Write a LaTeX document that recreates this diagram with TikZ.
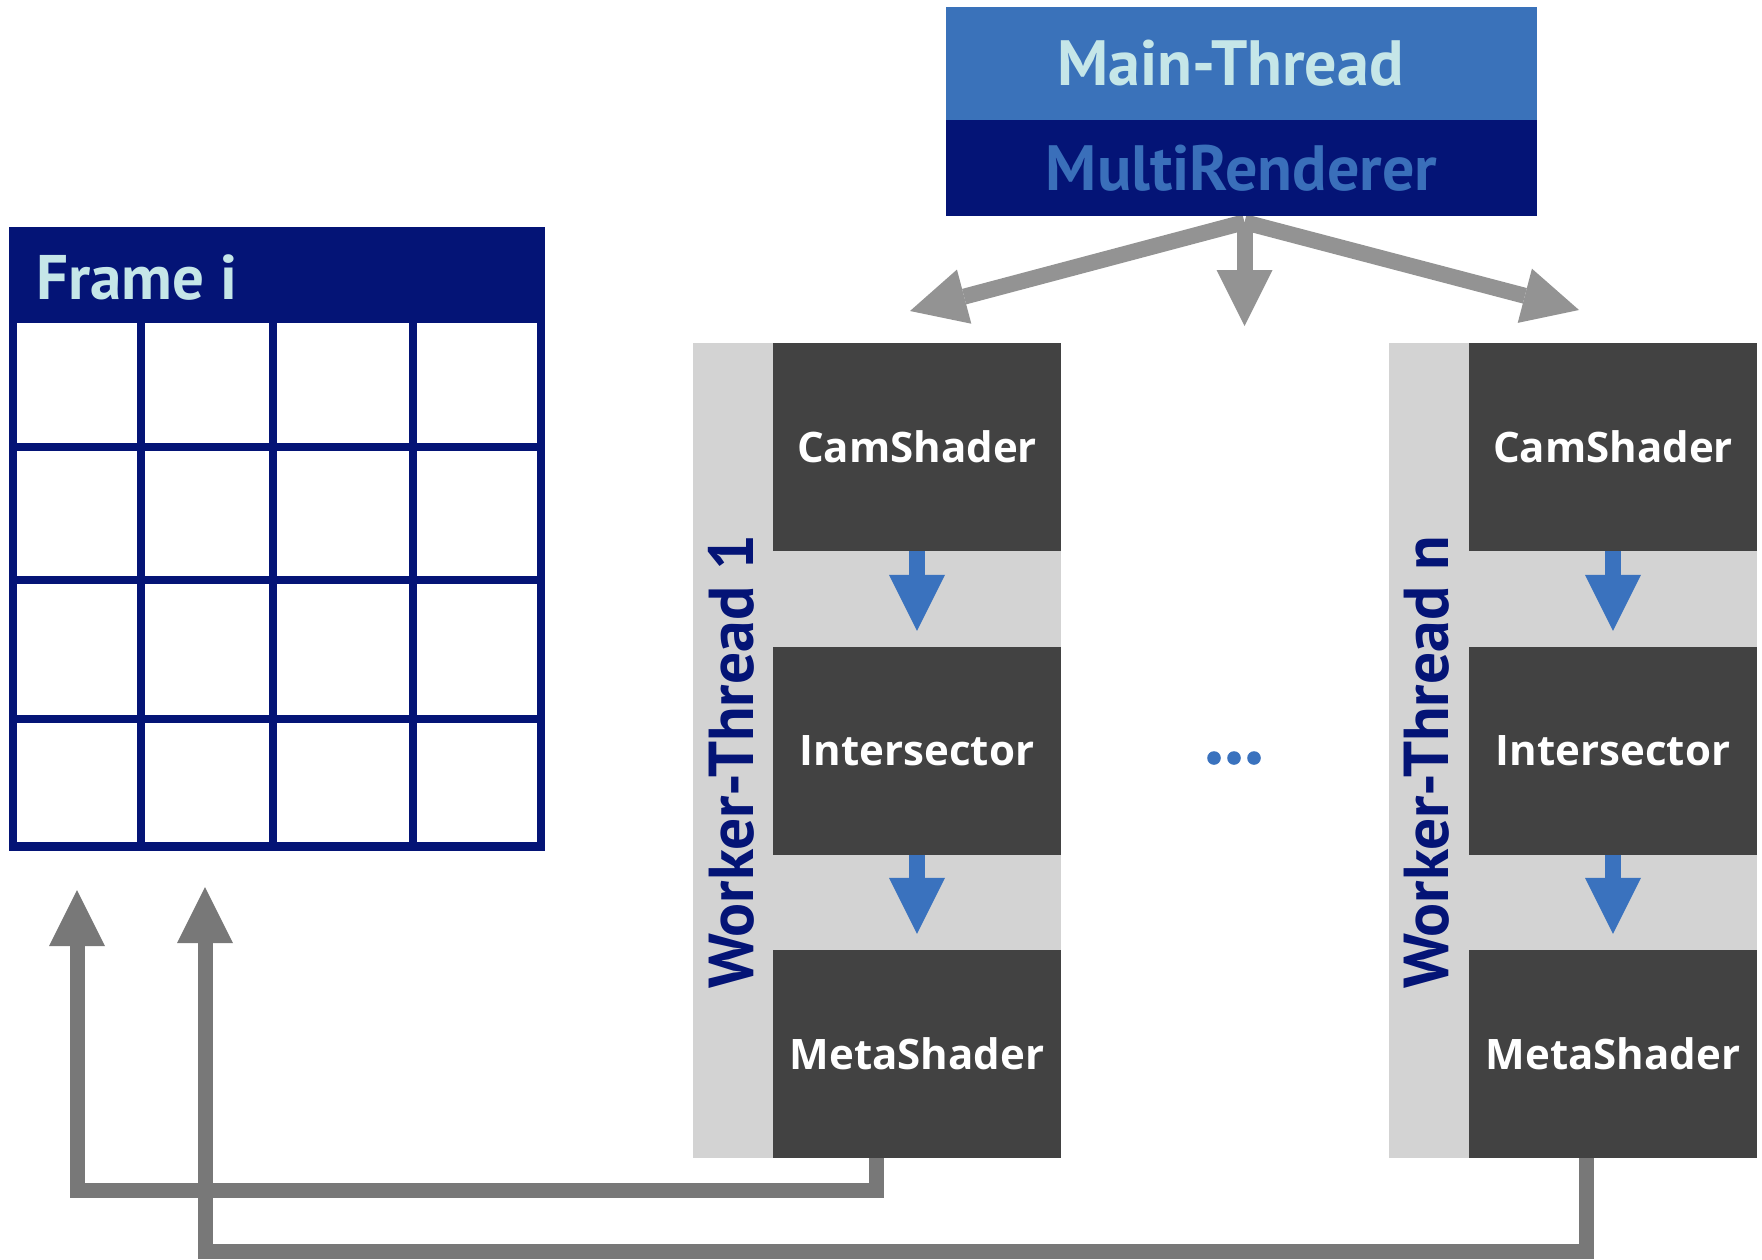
\documentclass[tikz,border=0pt]{standalone}
\usepackage{fontspec}
\newfontfamily\headfont{PT Sans}
\newfontfamily\boxfont{Open Sans}
\usetikzlibrary{arrows.meta}
\definecolor{mainblue}{HTML}{3A72BA}
\definecolor{navy}{HTML}{041476}
\definecolor{paletext}{HTML}{C5E6E8}
\definecolor{mrtext}{HTML}{3A6FBA}
\definecolor{fangray}{HTML}{939393}
\definecolor{retgray}{HTML}{787878}
\definecolor{panelgray}{HTML}{D3D3D3}
\definecolor{stagegray}{HTML}{424242}
\definecolor{flowblue}{HTML}{3A72BE}
\pgfdeclarelayer{bg}
\pgfsetlayers{bg,main}
\begin{document}
\begin{tikzpicture}[x=1pt,y=-1pt,
  stagebox/.style={fill=stagegray, inner sep=0pt, minimum width=288pt, minimum height=208pt,
    text=white, font=\boxfont\bfseries\fontsize{42}{42}\selectfont},
  panelbox/.style={fill=panelgray, inner sep=0pt, minimum width=368pt, minimum height=815pt},
  wlabel/.style={text=navy, inner sep=0pt, rotate=90, anchor=base west,
    font=\headfont\bfseries\fontsize{63.5}{63.5}\selectfont},
  headtext/.style={inner sep=0pt, font=\headfont\bfseries\fontsize{64}{64}\selectfont},
  flowarrow/.style={draw=flowblue, line width=16pt, -{Triangle[length=56pt,width=56pt,line width=0pt]}},
  fanarrow/.style={draw=fangray, line width=16pt, -{Triangle[length=56pt,width=56pt,line width=0pt]}},
  retarrow/.style={draw=retgray, line width=15pt, -{Triangle[length=56pt,width=56pt,line width=0pt]}},
]
\useasboundingbox (0,0) rectangle (1762,1259);

% ---- frame buffer with 4x4 tiles ----
\node[fill=navy, inner sep=0pt, minimum width=536pt, minimum height=624pt] (frame) at (277,539) {};
\foreach \xa/\xb in {17/137,145/269,277/409,417/537}
  \foreach \ya/\yb in {323/443,451/576,584/715,723/842}
    \fill[white] (\xa,\ya) rectangle (\xb,\yb);
\node[headtext, text=paletext, anchor=base west, font=\headfont\bfseries\fontsize{63}{63}\selectfont]
  (frametitle) at (36,299) {Frame i};

% ---- main thread ----
\node[fill=mainblue, inner sep=0pt, minimum width=591pt, minimum height=113pt, headtext, text=paletext]
  (mt) at (1241.5,63.5) {\hspace*{-22pt}Main-Thread};
\node[fill=navy, inner sep=0pt, minimum width=591pt, minimum height=96pt, headtext, text=mrtext]
  (mr) at (1241.5,168) {MultiRenderer};

% ---- worker threads ----
\node[panelbox] (p1) at (877,750.5) {};
\node[panelbox] (pn) at (1573,750.5) {};

\node[stagebox] (cam1) at (917,447) {CamShader};
\node[stagebox] (int1) at (917,751) {Intersector};
\node[stagebox] (meta1) at (917,1054) {MetaShader};
\node[stagebox] (camn) at (1613,447) {CamShader};
\node[stagebox] (intn) at (1613,751) {Intersector};
\node[stagebox] (metan) at (1613,1054) {MetaShader};

\node[wlabel] (w1) at (753,989) {Worker-Thread 1};
\node[wlabel] (wn) at (1448,989) {Worker-Thread n};

\draw[flowarrow] (cam1.south) -- ([yshift=16pt]int1.north);
\draw[flowarrow] (int1.south) -- ([yshift=16pt]meta1.north);
\draw[flowarrow] (camn.south) -- ([yshift=16pt]intn.north);
\draw[flowarrow] (intn.south) -- ([yshift=16pt]metan.north);

% ---- ellipsis between the workers ----
\foreach \dx in {1214,1234,1254}
  \fill[flowblue] (\dx,758) circle (6.8);

% ---- dispatch from the renderer ----
\coordinate (tl) at (910,311);
\coordinate (tc) at (1244.5,326);
\coordinate (tr) at (1579,310);
\begin{pgfonlayer}{bg}
  \draw[fanarrow] ([xshift=3pt,yshift=-6pt]mr.south) -- (tl);
  \draw[fanarrow] ([xshift=3pt,yshift=-6pt]mr.south) -- (tr);
  \draw[fanarrow] ([xshift=3pt,yshift=-6pt]mr.south) -- (tc);
\end{pgfonlayer}

% ---- results written back to the frame ----
\coordinate (in1) at (77,890);
\coordinate (inn) at (205,887);
\draw[retarrow] ([xshift=-40.5pt]meta1.south) -- ++(0,32.5) -| (in1);
\draw[retarrow] ([xshift=-27pt]metan.south) -- ++(0,93.5) -| (inn);
\end{tikzpicture}
\end{document}
